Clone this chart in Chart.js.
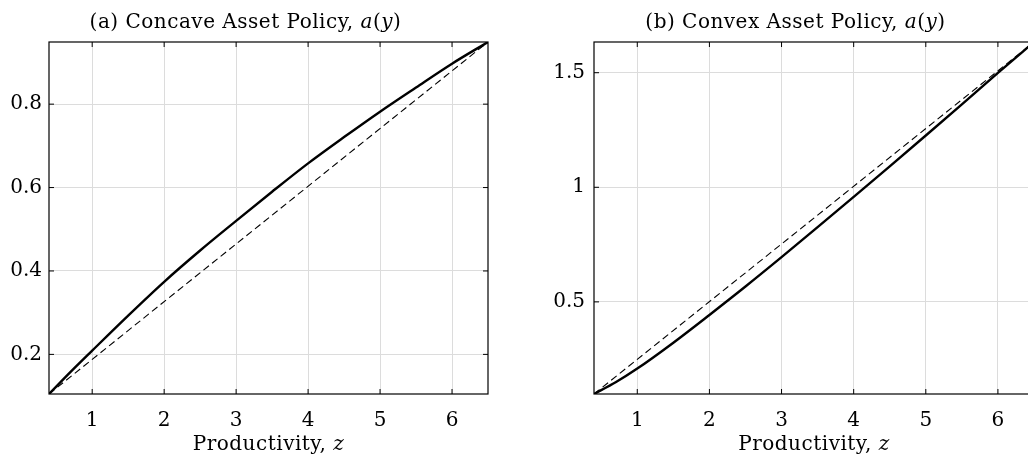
<!DOCTYPE html>
<html lang="en">
<head>
    <script src="https://cdn.jsdelivr.net/npm/chart.js"></script>
    <style>
        html, body {
            margin: 0;
            width: 1028px;
            height: 458px;
            overflow: hidden;
            background: #fff;
        }
        body { position: relative; }
        #left {
            position: absolute;
            left: 0;
            top: 0;
            width: 490px;
            height: 458px;
        }
        #right {
            position: absolute;
            left: 520px;
            top: 0;
            width: 514px;
            height: 458px;
        }
    </style>
</head>
<body>
    <div id="left"><canvas id="chartA"></canvas></div>
    <div id="right"><canvas id="chartB"></canvas></div>

    <script>
        // productivity grid and the two policy curves
        const zGrid   = [0.4, 0.7, 1, 1.5, 2, 2.5, 3, 3.5, 4, 4.5, 5, 5.5, 6, 6.5];
        const concave = [0.105, 0.158, 0.209, 0.293, 0.374, 0.449, 0.520, 0.590, 0.658, 0.721, 0.782, 0.840, 0.897, 0.949];
        const convex  = [0.098, 0.149, 0.209, 0.322, 0.443, 0.567, 0.695, 0.826, 0.958, 1.091, 1.226, 1.362, 1.499, 1.634];

        // dashed reference lines
        const lineZ = [0.4, 6.5];
        const lineA = [0.105, 0.949];
        const lineB = [0.098, 1.634];

        const xTicks  = [1, 2, 3, 4, 5, 6];
        const yTicksA = [0.2, 0.4, 0.6, 0.8];
        const yTicksB = [0.5, 1, 1.5];

        const FONT = 'DejaVu Serif';

        function drawMixed(ctx, parts, cx, y, size, spacing) {
            ctx.letterSpacing = spacing;
            let total = 0;
            parts.forEach(p => {
                ctx.font = (p.it ? 'italic ' : '') + size + 'px "' + FONT + '"';
                p.w = ctx.measureText(p.t).width;
                total += p.w;
            });
            let x = cx - total / 2;
            ctx.textAlign = 'left';
            ctx.textBaseline = 'alphabetic';
            parts.forEach(p => {
                ctx.font = (p.it ? 'italic ' : '') + size + 'px "' + FONT + '"';
                ctx.fillText(p.t, x, y);
                x += p.w;
            });
            ctx.letterSpacing = '0px';
        }

        // box, inward ticks and the texts with italic symbols
        const frame = {
            id: 'frame',
            afterDraw(chart, args, opts) {
                const { ctx, chartArea: a, scales } = chart;
                ctx.save();
                ctx.strokeStyle = '#000';
                ctx.lineWidth = 1.2;
                ctx.strokeRect(a.left, a.top, a.right - a.left, a.bottom - a.top);
                ctx.lineWidth = 1;
                ctx.beginPath();
                xTicks.forEach(v => {
                    const px = scales.x.getPixelForValue(v);
                    ctx.moveTo(px, a.bottom); ctx.lineTo(px, a.bottom - 5);
                    ctx.moveTo(px, a.top); ctx.lineTo(px, a.top + 5);
                });
                opts.yTicks.forEach(v => {
                    const py = scales.y.getPixelForValue(v);
                    ctx.moveTo(a.left, py); ctx.lineTo(a.left + 5, py);
                    ctx.moveTo(a.right, py); ctx.lineTo(a.right - 5, py);
                });
                ctx.stroke();

                ctx.fillStyle = '#000';
                const mid = (a.left + a.right) / 2;
                drawMixed(ctx, opts.title, mid + opts.titleShift, 27.5, 20, '0.5px');
                drawMixed(ctx, [{ t: 'Productivity, ' }, { t: 'z', it: true }], mid, 450, 20, '0.5px');
                ctx.restore();
            }
        };

        function makeChart(id, curve, line, yTicks, yMin, yMax, yWidth, yPad, padRight, title, titleShift) {
            const ctx = document.getElementById(id).getContext('2d');
            return new Chart(ctx, {
                type: 'line',
                data: {
                    datasets: [{
                        data: zGrid.map((z, i) => ({ x: z, y: curve[i] })),
                        borderColor: '#000',
                        borderWidth: 2.4,
                        pointRadius: 0,
                        cubicInterpolationMode: 'monotone',
                        fill: false
                    }, {
                        data: lineZ.map((z, i) => ({ x: z, y: line[i] })),
                        borderColor: '#000',
                        borderWidth: 1.1,
                        borderDash: [7, 4],
                        pointRadius: 0,
                        fill: false
                    }]
                },
                options: {
                    responsive: true,
                    maintainAspectRatio: false,
                    animation: false,
                    layout: { padding: { top: 42, right: padRight, left: 0, bottom: 0 } },
                    plugins: {
                        legend: { display: false },
                        tooltip: { enabled: false },
                        frame: { title: title, yTicks: yTicks, titleShift: titleShift }
                    },
                    scales: {
                        x: {
                            type: 'linear',
                            min: 0.4,
                            max: 6.5,
                            afterBuildTicks: s => { s.ticks = xTicks.map(v => ({ value: v })); },
                            afterFit: s => { s.height = 64; },
                            grid: { color: '#dcdcdc', drawTicks: false },
                            border: { display: false },
                            ticks: {
                                color: '#000',
                                padding: 15,
                                maxRotation: 0,
                                autoSkip: false,
                                font: { family: FONT, size: 20 },
                                callback: v => String(v)
                            }
                        },
                        y: {
                            min: yMin,
                            max: yMax,
                            afterBuildTicks: s => { s.ticks = yTicks.map(v => ({ value: v })); },
                            afterFit: s => { s.width = yWidth; },
                            grid: { color: '#dcdcdc', drawTicks: false },
                            border: { display: false },
                            ticks: {
                                color: '#000',
                                padding: yPad,
                                autoSkip: false,
                                font: { family: FONT, size: 20 },
                                callback: v => String(v)
                            }
                        }
                    }
                },
                plugins: [frame]
            });
        }

        makeChart('chartA', concave, lineA, yTicksA, 0.105, 0.949, 49, 7, 2,
            [{ t: '(a) Concave Asset Policy, ' }, { t: 'a', it: true }, { t: '(' }, { t: 'y', it: true }, { t: ')' }], -23);
        makeChart('chartB', convex, lineB, yTicksB, 0.098, 1.634, 74, 9, 0,
            [{ t: '(b) Convex Asset Policy, ' }, { t: 'a', it: true }, { t: '(' }, { t: 'y', it: true }, { t: ')' }], -18.5);
    </script>
</body>
</html>
